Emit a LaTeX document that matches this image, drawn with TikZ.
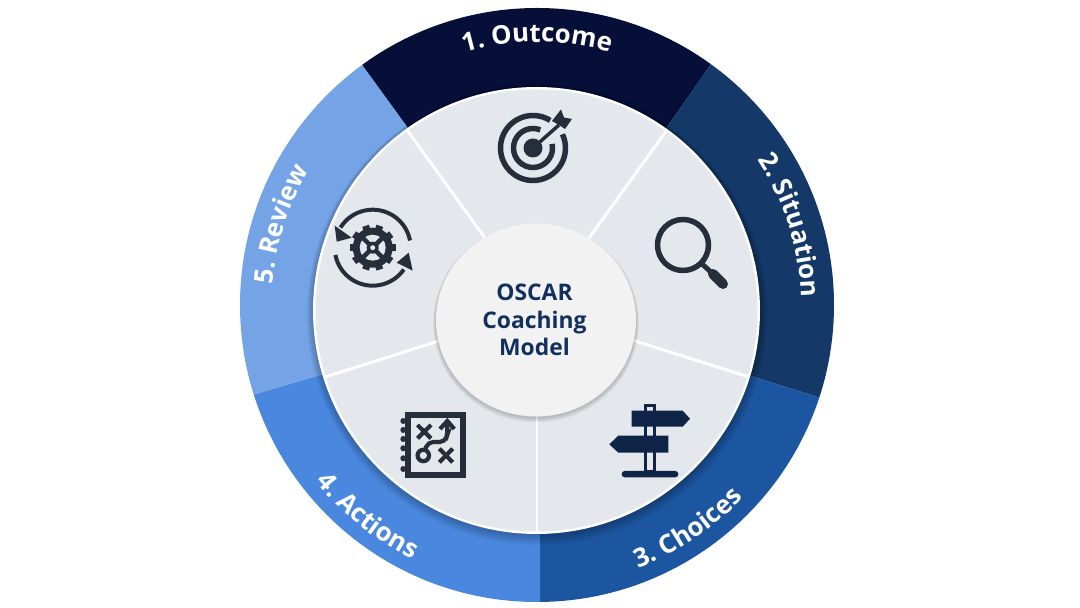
\documentclass[tikz,border=0pt]{standalone}
\usepackage{fontspec}
\setmainfont{Open Sans}
\usetikzlibrary{decorations.text,shapes.geometric}
\definecolor{outcomeblue}{HTML}{060F38}
\definecolor{situationblue}{HTML}{143868}
\definecolor{choicesblue}{HTML}{1C55A0}
\definecolor{actionsblue}{HTML}{4A88DF}
\definecolor{reviewblue}{HTML}{74A4E6}
\definecolor{diskgrey}{HTML}{E4E7EB}
\definecolor{hubgrey}{HTML}{F2F2F2}
\definecolor{hubtext}{HTML}{12305F}
\definecolor{iconslate}{HTML}{262E3B}
\definecolor{iconnavy}{HTML}{0E2547}
\def\ringfont{\fontsize{14.7}{18}\selectfont\bfseries\color{white}}
\begin{document}
\begin{tikzpicture}[
    x=0.02cm, y=0.02cm,
    wedge/.style={fill=#1},
    spoke/.style={white, line width=1.7pt},
    ringlabel/.style={decorate, decoration={text along path, text align=center, text={#1}}},
    hublabel/.style={font=\fontsize{13}{15.6}\selectfont\bfseries, align=center, text=hubtext},
    hubdisk/.style={ellipse, fill=hubgrey, inner sep=0pt, minimum width=200*0.02cm, minimum height=193*0.02cm},
    slate/.style={iconslate, line width=#1*0.567pt},
    navy/.style={iconnavy, line width=#1*0.567pt}
]
    \useasboundingbox (0,0) rectangle (1080,608);

    % Outer ring
    \begin{scope}
        \clip (537,303) circle [radius=297];
        \fill[wedge=outcomeblue] (540,298) -- (328,590) -- (537,908) -- (743,590) -- cycle;
        \fill[wedge=situationblue] (540,298) -- (743,590) -- (1100,508) -- (872,194) -- cycle;
        \fill[wedge=choicesblue] (540,298) -- (872,194) -- (800,-192) -- (540,-52) -- cycle;
        \fill[wedge=actionsblue] (540,298) -- (540,-52) -- (250,-192) -- (198,197) -- cycle;
        \fill[wedge=reviewblue] (540,298) -- (198,197) -- (100,508) -- (328,590) -- cycle;
        % Shadow of the disk
        \foreach \i in {1,...,8}
            \fill[black, opacity=0.035] (537,{298-\i*0.6}) circle [radius={223+\i*0.9}];
    \end{scope}

    % Ring labels
    \path[ringlabel={|\ringfont|1. Outcome}] ([shift=(135:263)]537,303) arc [start angle=135, end angle=45, radius=263];
    \path[ringlabel={|\ringfont|2. Situation}] ([shift=(62.5:264)]537,303) arc [start angle=62.5, end angle=-27.5, radius=264];
    \path[ringlabel={|\ringfont|3. Choices}] ([shift=(-101:282)]537,303) arc [start angle=-101, end angle=-11, radius=282];
    \path[ringlabel={|\ringfont|4. Actions}] ([shift=(186.3:283)]537,303) arc [start angle=186.3, end angle=276.3, radius=283];
    \path[ringlabel={|\ringfont|5. Review}] ([shift=(207.5:265)]537,303) arc [start angle=207.5, end angle=117.5, radius=265];

    % Inner disk
    \fill[white] (536.5,297.5) circle [radius=223.5];
    \fill[diskgrey] (536.5,297.5) circle [radius=221];

    % Spokes
    \coordinate (diskcentre) at (537,298);
    \coordinate (s1) at (407,478);
    \coordinate (s2) at (667,478);
    \coordinate (s3) at (749,231);
    \coordinate (s4) at (537,75);
    \coordinate (s5) at (325,231);
    \foreach \s in {s1,s2,s3,s4,s5}
        \draw[spoke] (diskcentre) -- (\s);

    % Hub
    \foreach \i in {1,...,6}
        \fill[black, opacity=0.03] (536,{287-\i*0.35}) ellipse [x radius={100+\i*0.5}, y radius={96.5+\i*0.5}];
    \node[hubdisk] (hub) at (536,288) {};
    \node[hublabel] (hubtitle) at (534.5,288) {OSCAR\\Coaching\\Model};

    % Target
    \begin{scope}[shift={(533,460)}]
        \draw[slate=5.5] (58:32.5) arc [start angle=58, end angle=385, radius=32.5];
        \draw[slate=5.5] (68:19.5) arc [start angle=68, end angle=372, radius=19.5];
        \fill[iconslate] (0,0) circle [radius=9.5];
        \draw[diskgrey, line width=3.5pt] (7,6.2) -- (24,21);
        \draw[slate=3.5] (0,0) -- (26,23);
        \fill[iconslate] (19,27) -- (28,38.5) -- (31,30.5) -- (39,29) -- (32,19) -- (26,23) -- cycle;
    \end{scope}

    % Magnifier
    \begin{scope}[shift={(683,363)}]
        \draw[slate=5.5] (0,0) circle [radius=25.5];
        \draw[slate=5] (18,-18) -- (30,-29);
        \draw[slate=10, line cap=round] (30,-29) -- (40,-39);
    \end{scope}

    % Signpost
    \begin{scope}[shift={(650,164)}]
        \draw[navy=3] (-4.5,-28) rectangle (4.5,38.5);
        \fill[iconnavy] (-18.3,33.3) -- (32.7,33.3) -- (40,25.3) -- (32.7,17.3) -- (-18.3,17.3) -- cycle;
        \fill[iconnavy] (-31.7,8.3) -- (18.3,8.3) -- (18.3,-8.7) -- (-31.7,-8.7) -- (-40.7,-0.3) -- cycle;
        \fill[iconnavy, rounded corners=3pt*0.567] (-28.3,-27) rectangle (28.3,-33.3);
    \end{scope}

    % Plan
    \begin{scope}[shift={(436,163)}]
        \draw[slate=6] (-27.8,-30) rectangle (27.2,30);
        \foreach \y in {24,15,6,-3.3,-13.3,-24}
            \fill[iconslate] (-32.7,\y) circle [radius=3];
        \draw[slate=4.2] (-18.5,20) -- (-5,6.6) (-18.5,6.6) -- (-5,20);
        \draw[slate=4.2] (3.3,-3.7) -- (16.7,-17.3) (3.3,-17.3) -- (16.7,-3.7);
        \draw[slate=4.2] (-12.7,-10.5) circle [radius=5.7];
        \draw[slate=4.2, rounded corners=3pt] (-11,-5) -- (-8,3) -- (9,3) -- (11.3,10) -- (11.3,24);
        \draw[slate=4.2] (4,16) -- (11.3,24) -- (18.3,16);
    \end{scope}

    % Review cycle
    \begin{scope}[shift={(372.7,360.3)}]
        \draw[slate=4] (11:38) arc [start angle=11, end angle=148, radius=38];
        \fill[iconslate] (-38,22) -- (-21,10) -- (-36,6) -- cycle;
        \draw[slate=4] (191:38) arc [start angle=191, end angle=325, radius=38];
        \fill[iconslate] (36,-5) -- (40,-23) -- (24,-15) -- cycle;
        \foreach \a in {0,36,...,324}
            \fill[iconslate, rotate=\a] (19,-3.5) rectangle (23,3.5);
        \fill[iconslate] (0,0) circle [radius=20];
        \fill[diskgrey] (0,0) circle [radius=13];
        \draw[slate=4.5] (-10,-10) -- (10,10) (-10,10) -- (10,-10);
        \fill[iconslate] (0,0) circle [radius=6];
        \fill[diskgrey] (0,0) circle [radius=2.5];
    \end{scope}
\end{tikzpicture}
\end{document}
